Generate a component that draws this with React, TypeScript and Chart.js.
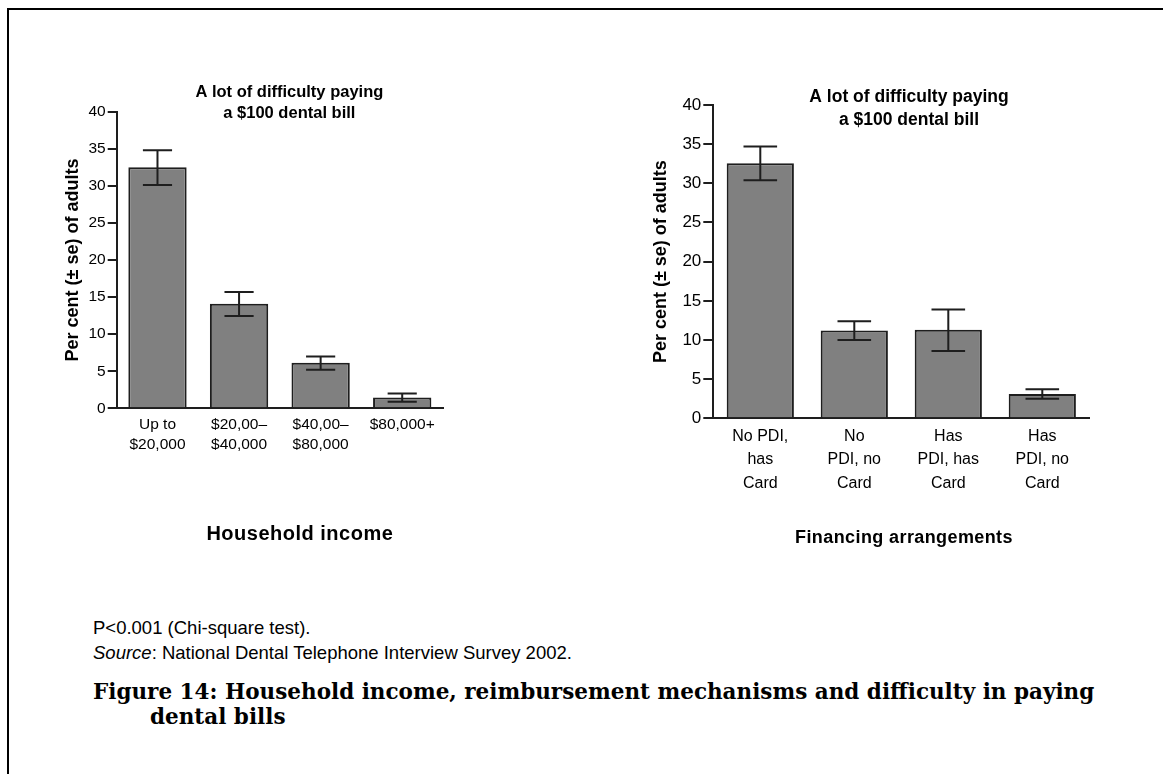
import React, { useEffect, useRef } from "react";
import { Chart, registerables } from "chart.js";

Chart.register(...registerables);

// ---------- data ----------
const incomeCategories: (string | string[])[] = [
  ["Up to", "$20,000"],
  ["$20,00–", "$40,000"],
  ["$40,00–", "$80,000"],
  "$80,000+",
];
const incomeValues = [32.5, 14.1, 6.15, 1.45];
const incomeSeLow = [30.1, 12.45, 5.2, 0.9];
const incomeSeHigh = [34.8, 15.7, 7.0, 2.0];

const financeCategories: (string | string[])[] = [
  ["No PDI,", "has", "Card"],
  ["No", "PDI, no", "Card"],
  ["Has", "PDI, has", "Card"],
  ["Has", "PDI, no", "Card"],
];
const financeValues = [32.55, 11.2, 11.3, 3.1];
const financeSeLow = [30.4, 10.0, 8.6, 2.5];
const financeSeHigh = [34.7, 12.4, 13.9, 3.7];

const yTickValues = [0, 5, 10, 15, 20, 25, 30, 35, 40];
const chartTitleLines = ["A lot of difficulty paying", "a $100 dental bill"];
const yAxisTitle = "Per cent (± se) of adults";
const incomeAxisTitle = "Household income";
const financeAxisTitle = "Financing arrangements";

// ---------- styling ----------
const FONT = '"Liberation Sans", Arial, Helvetica, sans-serif';
const INK = "#1e1e1e";
const BAR = "#808080";

Chart.defaults.font.family = FONT;
Chart.defaults.color = "#000";

function makeErrorBarPlugin(low: number[], high: number[]) {
  return {
    id: "errorBars",
    afterDatasetsDraw(chart: any) {
      const { ctx } = chart;
      const meta = chart.getDatasetMeta(0);
      const y = chart.scales.y;
      ctx.save();
      ctx.strokeStyle = INK;
      ctx.lineWidth = 2;
      meta.data.forEach((bar: any, i: number) => {
        const x = bar.x;
        const half = bar.width / 4;
        const yl = y.getPixelForValue(low[i]);
        const yh = y.getPixelForValue(high[i]);
        ctx.beginPath();
        ctx.moveTo(x, yh);
        ctx.lineTo(x, yl);
        ctx.moveTo(x - half, yh);
        ctx.lineTo(x + half, yh);
        ctx.moveTo(x - half, yl);
        ctx.lineTo(x + half, yl);
        ctx.stroke();
      });
      ctx.restore();
    },
  };
}

type TextCfg = {
  titleSize: number;
  titleDx: number;
  titleDy: number;
  titleGap: number;
  xTitle: string;
  xTitleSize: number;
  xTitleSpacing: number;
  xTitleDx: number;
  xTitleDy: number;
};

function makeTextPlugin(cfg: TextCfg) {
  return {
    id: "chartTexts",
    afterDraw(chart: any) {
      const { ctx, chartArea } = chart;
      const cx = (chartArea.left + chartArea.right) / 2;
      ctx.save();
      ctx.fillStyle = "#000";
      ctx.textAlign = "center";
      ctx.textBaseline = "middle";
      ctx.font = `bold ${cfg.titleSize}px ${FONT}`;
      chartTitleLines.forEach((line, i) => {
        ctx.fillText(line, cx + cfg.titleDx, chartArea.top + cfg.titleDy + i * cfg.titleGap);
      });
      ctx.font = `bold ${cfg.xTitleSize}px ${FONT}`;
      if ("letterSpacing" in ctx) (ctx as any).letterSpacing = `${cfg.xTitleSpacing}px`;
      ctx.fillText(cfg.xTitle, cx + cfg.xTitleDx, chartArea.bottom + cfg.xTitleDy);
      ctx.restore();
    },
  };
}

type ChartSpec = {
  labels: (string | string[])[];
  values: number[];
  low: number[];
  high: number[];
  width: number;
  height: number;
  area: { left: number; top: number; right: number; bottom: number };
  xTickSize: number;
  xTickLine: number;
  xTickPad: number;
  yTickSize: number;
  tickLen: number;
  yTitleSize: number;
  yTitlePad: number;
  text: TextCfg;
};

function buildConfig(s: ChartSpec): any {
  return {
    type: "bar",
    data: {
      labels: s.labels,
      datasets: [
        {
          data: s.values,
          backgroundColor: BAR,
          borderColor: INK,
          borderWidth: 2,
          barPercentage: 0.715,
          categoryPercentage: 1,
        },
      ],
    },
    options: {
      animation: false,
      responsive: false,
      maintainAspectRatio: false,
      devicePixelRatio: 1,
      layout: {
        padding: { left: 0, top: s.area.top, right: s.width - s.area.right, bottom: 0 },
      },
      plugins: {
        legend: { display: false },
        tooltip: { enabled: false },
        title: { display: false },
      },
      scales: {
        x: {
          offset: true,
          grid: { display: false, drawTicks: false, drawOnChartArea: false },
          border: { display: true, color: INK, width: 2 },
          ticks: {
            color: "#000",
            padding: s.xTickPad,
            maxRotation: 0,
            minRotation: 0,
            autoSkip: false,
            font: { size: s.xTickSize, lineHeight: s.xTickLine / s.xTickSize },
          },
          afterFit: (sc: any) => {
            sc.height = s.height - s.area.bottom;
          },
        },
        y: {
          min: 0,
          max: 40,
          afterBuildTicks: (sc: any) => {
            sc.ticks = yTickValues.map((v) => ({ value: v }));
          },
          grid: {
            display: true,
            drawOnChartArea: false,
            drawTicks: true,
            tickLength: s.tickLen,
            color: INK,
            lineWidth: 2,
          },
          border: { display: true, color: INK, width: 2 },
          ticks: {
            color: "#000",
            padding: 2,
            font: { size: s.yTickSize },
            callback: (v: any) => String(v),
          },
          title: {
            display: true,
            text: yAxisTitle,
            color: "#000",
            font: { size: s.yTitleSize, weight: "bold", lineHeight: 1.2 },
            padding: { top: s.yTitlePad, bottom: 0 },
          },
          afterFit: (sc: any) => {
            sc.width = s.area.left;
          },
        },
      },
    },
    plugins: [makeErrorBarPlugin(s.low, s.high), makeTextPlugin(s.text)],
  };
}

function BarChart({ spec, left, top }: { spec: ChartSpec; left: number; top: number }) {
  const ref = useRef<HTMLCanvasElement | null>(null);
  useEffect(() => {
    if (!ref.current) return;
    const chart = new Chart(ref.current, buildConfig(spec));
    return () => chart.destroy();
  }, [spec]);
  return (
    <canvas
      ref={ref}
      width={spec.width}
      height={spec.height}
      style={{
        position: "absolute",
        left,
        top,
        width: spec.width,
        height: spec.height,
      }}
    />
  );
}

// canvas at page (40,60); plot area page x 116.7–443, y 111.7–408.3
const leftSpec: ChartSpec = {
  labels: incomeCategories,
  values: incomeValues,
  low: incomeSeLow,
  high: incomeSeHigh,
  width: 420,
  height: 500,
  area: { left: 76.7, top: 51.7, right: 403, bottom: 348.3 },
  xTickSize: 15.5,
  xTickLine: 20,
  xTickPad: 6,
  yTickSize: 15.5,
  tickLen: 9,
  yTitleSize: 18,
  yTitlePad: 22,
  text: {
    titleSize: 16.5,
    titleDx: 9.5,
    titleDy: -19.7,
    titleGap: 21.5,
    xTitle: incomeAxisTitle,
    xTitleSize: 20,
    xTitleSpacing: 0.5,
    xTitleDx: 20,
    xTitleDy: 126,
  },
};

// canvas at page (630,60); plot area page x 713.3–1089.3, y 105–418.3
const rightSpec: ChartSpec = {
  labels: financeCategories,
  values: financeValues,
  low: financeSeLow,
  high: financeSeHigh,
  width: 500,
  height: 500,
  area: { left: 83.3, top: 45, right: 459.3, bottom: 358.3 },
  xTickSize: 16,
  xTickLine: 23.4,
  xTickPad: 6.5,
  yTickSize: 17,
  tickLen: 10,
  yTitleSize: 18,
  yTitlePad: 20.5,
  text: {
    titleSize: 17.5,
    titleDx: 7.7,
    titleDy: -7.7,
    titleGap: 22.7,
    xTitle: financeAxisTitle,
    xTitleSize: 18,
    xTitleSpacing: 0.4,
    xTitleDx: 2.7,
    xTitleDy: 120,
  },
};

const noteStyle: React.CSSProperties = {
  position: "absolute",
  left: 93,
  fontFamily: FONT,
  fontSize: 18.5,
  lineHeight: "22px",
  color: "#000",
  whiteSpace: "nowrap",
};

export default function App() {
  return (
    <div
      style={{
        position: "absolute",
        left: 0,
        top: 0,
        width: 1163,
        height: 774,
        background: "#fff",
        overflow: "hidden",
      }}
    >
      <div
        style={{
          position: "absolute",
          left: 7,
          top: 8,
          width: 1156,
          height: 766,
          borderTop: "2px solid #000",
          borderLeft: "2px solid #000",
          boxSizing: "border-box",
        }}
      />
      <BarChart spec={leftSpec} left={40} top={60} />
      <BarChart spec={rightSpec} left={630} top={60} />
      <div style={{ ...noteStyle, top: 617 }}>P&lt;0.001 (Chi-square test).</div>
      <div style={{ ...noteStyle, top: 642 }}>
        <i>Source</i>: National Dental Telephone Interview Survey 2002.
      </div>
      <div
        style={{
          position: "absolute",
          left: 93,
          top: 679,
          fontFamily: '"DejaVu Serif", Georgia, serif',
          fontWeight: "bold",
          fontSize: 21.5,
          lineHeight: "25px",
          color: "#000",
          whiteSpace: "nowrap",
          paddingLeft: 57,
          textIndent: -57,
        }}
      >
        Figure 14: Household income, reimbursement mechanisms and difficulty in paying
        <br />
        dental bills
      </div>
    </div>
  );
}
